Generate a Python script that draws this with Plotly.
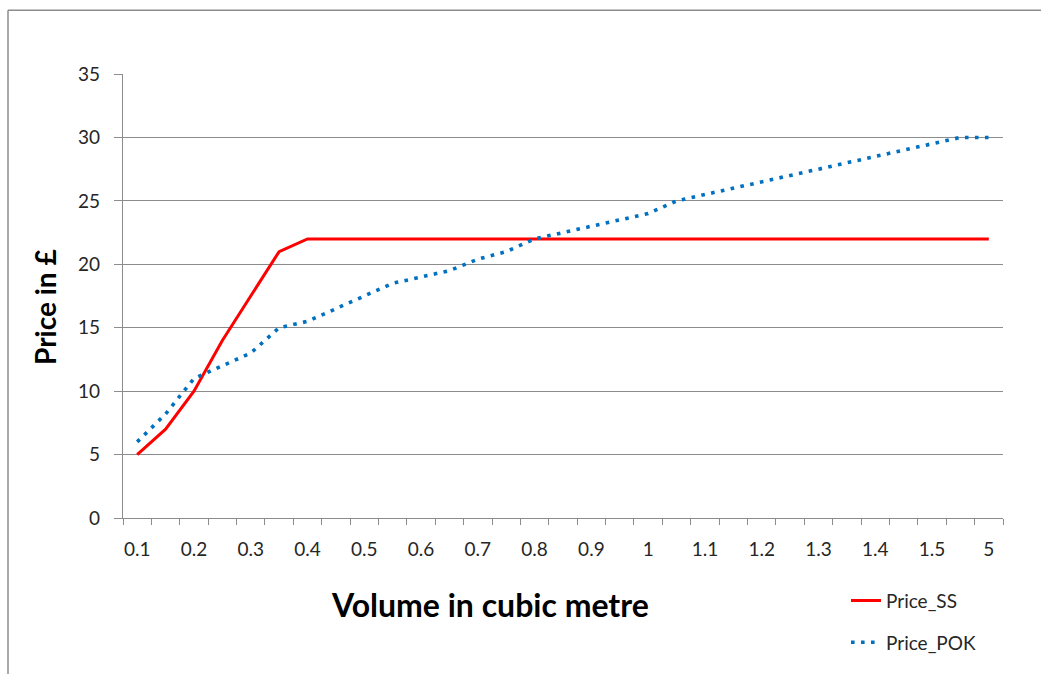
import plotly.graph_objects as go

categories = ["0.1", "0.15", "0.2", "0.25", "0.3", "0.35", "0.4", "0.45", "0.5", "0.55",
              "0.6", "0.65", "0.7", "0.75", "0.8", "0.85", "0.9", "0.95", "1", "1.05",
              "1.1", "1.15", "1.2", "1.25", "1.3", "1.35", "1.4", "1.45", "1.5", "2", "5"]
tick_labels = ["0.1", "", "0.2", "", "0.3", "", "0.4", "", "0.5", "",
               "0.6", "", "0.7", "", "0.8", "", "0.9", "", "1", "",
               "1.1", "", "1.2", "", "1.3", "", "1.4", "", "1.5", "", "5"]
price_ss = [5, 7, 10, 14, 17.5, 21, 22, 22, 22, 22,
            22, 22, 22, 22, 22, 22, 22, 22, 22, 22,
            22, 22, 22, 22, 22, 22, 22, 22, 22, 22, 22]
price_pok = [6, 8.2, 11, 12, 13, 15, 15.5, 16.5, 17.5, 18.5,
             19, 19.5, 20.4, 21, 22, 22.5, 23, 23.5, 24, 25,
             25.5, 26, 26.5, 27, 27.5, 28, 28.5, 29, 29.5, 30, 30]

FONT = "Lato, sans-serif"
GRID = "#8c8c8c"

fig = go.Figure()
fig.add_trace(go.Scatter(x=categories, y=price_ss, mode="lines", name="Price_SS",
                         line=dict(color="#ff0000", width=3), legend="legend"))
fig.add_trace(go.Scatter(x=categories, y=price_pok, mode="lines", name="Price_POK",
                         line=dict(color="#0070c0", width=3.6, dash="3.6px,6.4px"), legend="legend2"))

W, H = 1041, 674
L, R, T, B = 123, 1003, 74, 520
pw, ph = R - L, B - T

def px(x):
    return (x - L) / pw

def py(y):
    return (B - y) / ph

fig.update_layout(
    width=W, height=H,
    margin=dict(l=L, r=W - R, t=T, b=H - B),
    paper_bgcolor="white", plot_bgcolor="white",
    font=dict(family=FONT, size=20, color="#404040"),
    showlegend=True,
    legend=dict(x=px(846), y=py(603), xanchor="left", yanchor="middle",
                font=dict(family=FONT, size=19, color="#262626"), bgcolor="rgba(0,0,0,0)"),
    legend2=dict(x=px(846), y=py(645), xanchor="left", yanchor="middle",
                 font=dict(family=FONT, size=19, color="#262626"), bgcolor="rgba(0,0,0,0)"),
    xaxis=dict(type="category", categoryorder="array", categoryarray=categories,
               tickvals=categories, ticktext=tick_labels, tickson="boundaries",
               ticks="outside", ticklen=6, tickcolor=GRID, tickwidth=1.3, tickangle=0,
               showline=True, linecolor=GRID, linewidth=1.3, showgrid=False,
               tickfont=dict(family=FONT, size=19, color="#262626"), ticklabelstandoff=14,
               range=[-0.5, len(categories) - 0.5], fixedrange=True),
    yaxis=dict(range=[0, 35], tickvals=[0, 5, 10, 15, 20, 25, 30, 35],
               ticks="outside", ticklen=8, tickcolor=GRID, tickwidth=1.3,
               showline=True, linecolor=GRID, linewidth=1.3,
               showgrid=True, gridcolor=GRID, gridwidth=1.3, zeroline=False,
               tickfont=dict(family=FONT, size=19, color="#262626"), ticklabelstandoff=10),
    annotations=[
        dict(text="<b>Volume in cubic metre</b>", x=px(490), y=py(607), xref="paper", yref="paper",
             showarrow=False, font=dict(family=FONT, size=32, color="#000000"),
             xanchor="center", yanchor="middle"),
        dict(text="<b>Price in £</b>", x=px(45), y=py(308), xref="paper", yref="paper",
             showarrow=False, textangle=-90, font=dict(family=FONT, size=28, color="#000000"),
             xanchor="center", yanchor="middle"),
    ],
    shapes=[
        dict(type="line", xref="paper", yref="paper", x0=px(8), x1=px(1060), y0=py(10), y1=py(10),
             line=dict(color="#8c8c8c", width=1.5)),
        dict(type="line", xref="paper", yref="paper", x0=px(8), x1=px(8), y0=py(10), y1=py(690),
             line=dict(color="#8c8c8c", width=1.5)),
    ],
)

fig.write_html("out.html")
